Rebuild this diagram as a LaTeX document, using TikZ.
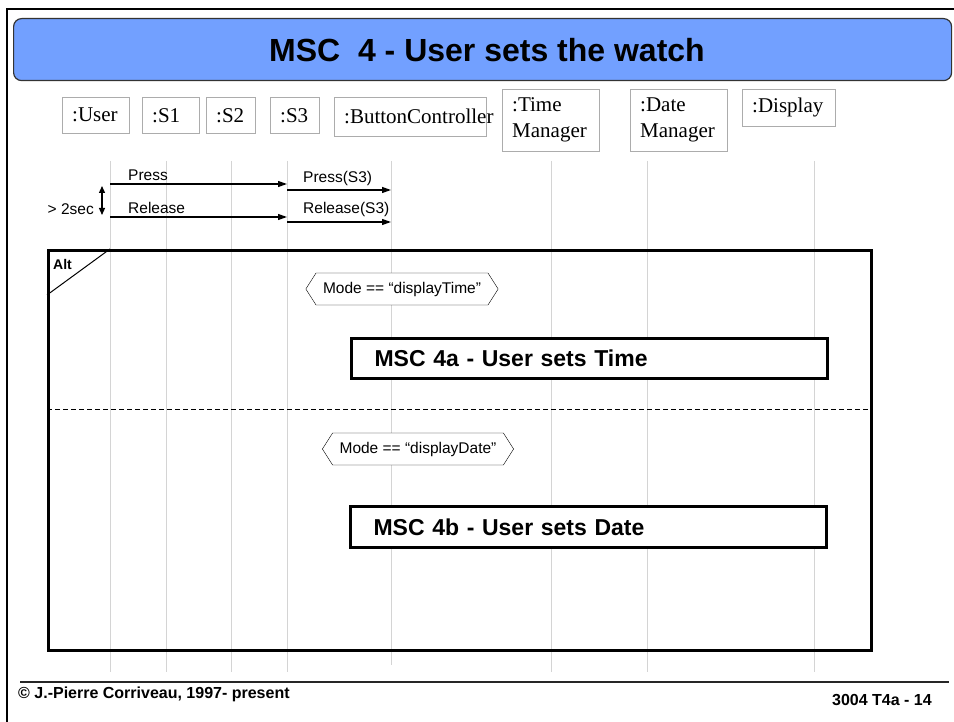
\documentclass[tikz,border=0pt]{standalone}
\usepackage{fontspec}
\setmainfont{Liberation Serif}
\newfontfamily\arial{Liberation Sans}
\usepackage{tikz}
\usetikzlibrary{arrows.meta}
\usetikzlibrary{shapes.symbols}
\definecolor{bannerblue}{RGB}{114,160,255}
\definecolor{lifegray}{RGB}{212,212,212}

\tikzset{
    head/.style={draw=gray!65, anchor=north west, align=left, inner xsep=10pt, inner ysep=2pt,
        font=\fontsize{21}{26}\selectfont},
    lifeline/.style={lifegray, line width=1pt},
    msg/.style={-{Triangle[length=9pt,width=6pt]}, line width=1.2pt},
    msglabel/.style={font=\arial\fontsize{15.5}{18}\selectfont, anchor=base west, inner sep=0pt},
    guard/.style={draw, fill=white, signal, signal to=east and west, signal pointer angle=115,
        minimum height=32pt, inner xsep=7pt, font=\arial\fontsize{15.5}{18}\selectfont},
    refbox/.style={draw, fill=white, line width=3pt, anchor=north west, align=left,
        inner xsep=23pt, font=\arial\bfseries\fontsize{23}{27}\selectfont},
    footer/.style={font=\arial\bfseries\fontsize{16}{19}\selectfont, inner sep=0pt}
}

\begin{document}
\begin{tikzpicture}[x=1pt, y=-1pt] % Pixelkoordinaten, y nach unten
    \useasboundingbox (0,0) rectangle (954,722);
    % Rahmen der Folie
    \draw[line width=2pt] (7,722) -- (7,9) -- (954,9);
    % Titelbalken
    \node[draw=black!80, line width=1.2pt, fill=bannerblue, rounded corners=8pt,
        minimum width=938pt, minimum height=62pt, anchor=north west] (banner) at (13,18) {};
    \node[font=\arial\bfseries\fontsize{32}{38}\selectfont] (title) at (487,50) {MSC~ 4 - User sets the watch};
    % Instanzen
    \node[head, text width=47pt, minimum height=36pt] (huser) at (62,97) {:User};
    \node[head, text width=37pt, minimum height=36pt] (hsone) at (142,97) {:S1};
    \node[head, text width=29pt, minimum height=36pt] (hstwo) at (206,97) {:S2};
    \node[head, text width=29pt, minimum height=36pt] (hsthree) at (270,97) {:S3};
    \node[head, text width=132pt, minimum height=39pt] (hbc) at (334,97) {:ButtonController};
    \node[head, text width=77pt, minimum height=62pt] (htm) at (502,89) {:Time\\Manager};
    \node[head, text width=77pt, minimum height=62pt] (hdm) at (630,89) {:Date\\Manager};
    \node[head, text width=73pt, minimum height=37pt] (hdisp) at (742,89) {:Display};
    % Lebenslinien
    \foreach \name/\x/\yend in {user/110/672, sone/166/672, stwo/231/672, sthree/287/672,
        bc/391/665, tm/551/672, dm/647/672, disp/814/672} {
        \draw[lifeline] (\x,161) coordinate (\name) -- (\x,\yend) coordinate (\name end);
    }
    % Nachrichten
    \draw[msg] (user |- 0,184) -- (sthree |- 0,184);
    \node[msglabel] (lpress) at (128,181) {Press};
    \draw[msg] (sthree |- 0,190) -- (bc |- 0,190);
    \node[msglabel] (lpresss) at (303,183) {Press(S3)};
    \draw[msg] (user |- 0,217) -- (sthree |- 0,217);
    \node[msglabel] (lrelease) at (128,214) {Release};
    \draw[msg] (sthree |- 0,222) -- (bc |- 0,222);
    \node[msglabel] (lreleases) at (303,214) {Release(S3)};
    % Zeitbedingung
    \coordinate (ttop) at (102,186);
    \coordinate (tbot) at (102,215);
    \draw[{Triangle[length=7pt,width=6pt]}-{Triangle[length=7pt,width=6pt]}, line width=1.3pt] (ttop) -- (tbot);
    \node[font=\arial\fontsize{15.5}{18}\selectfont, anchor=east, inner sep=0pt] (ltime) at (94,209) {> 2sec};
    % Alt-Block
    \node[draw, line width=3pt, minimum width=823pt, minimum height=400pt, anchor=north west, inner sep=0pt] (alt) at (47,249) {};
    \coordinate (altcut) at (47,295);
    \draw[line width=1pt] (altcut) -- (alt.north west -| user);
    \node[font=\arial\bfseries\fontsize{14}{16}\selectfont, anchor=west, inner sep=0pt] (altlabel) at (53,264) {Alt};
    \draw[line width=1pt, dash pattern=on 5pt off 3pt] (alt.west |- 0,409) -- (alt.east |- 0,409);
    % Bedingungen und Referenzen
    \node[guard] (gtime) at (402,289) {Mode == “displayTime”};
    \node[refbox, text width=430pt, minimum height=40pt] (rtime) at (350,337) {MSC 4a - User sets Time};
    \node[guard] (gdate) at (418,449) {Mode == “displayDate”};
    \node[refbox, text width=430pt, minimum height=41pt] (rdate) at (349,505) {MSC 4b - User sets Date};
    % Fusszeile
    \draw[line width=1.2pt, black!85] (20,682) -- (949,682);
    \node[footer, anchor=west] (copy) at (18,694) {© J.-Pierre Corriveau, 1997- present};
    \node[footer, anchor=east] (page) at (932,700) {3004 T4a - 14};
\end{tikzpicture}
\end{document}
